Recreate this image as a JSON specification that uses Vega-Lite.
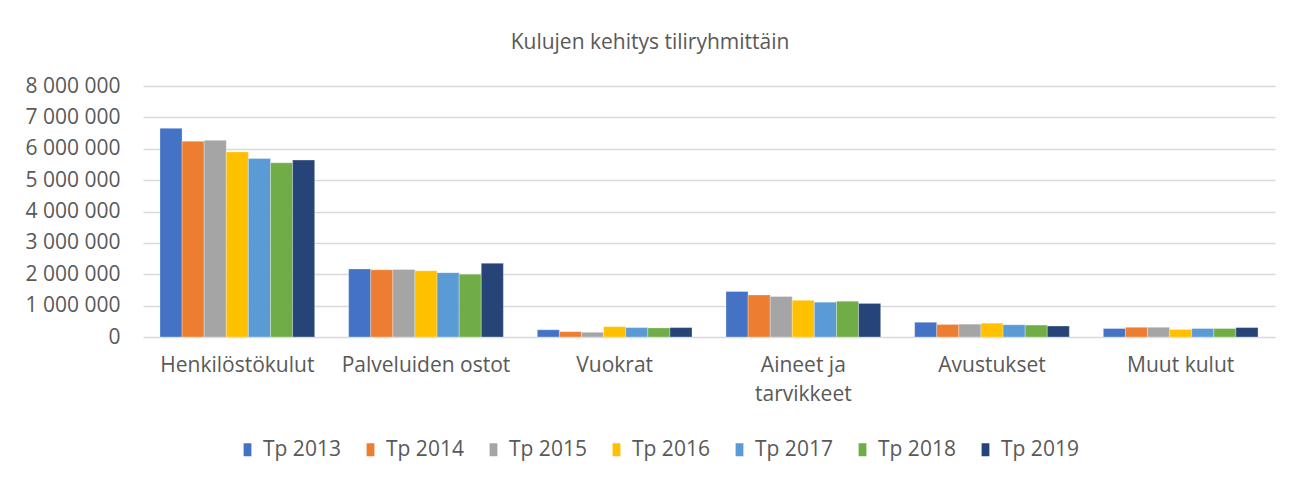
{
  "$schema": "https://vega.github.io/schema/vega-lite/v6.json",
  "width": 1132,
  "height": 251,
  "autosize": {"type": "none"},
  "padding": {"left": 143, "top": 86, "right": 29, "bottom": 149},
  "background": "white",
  "config": {
    "font": "Open Sans",
    "view": {"stroke": null},
    "locale": {"number": {"decimal": ",", "thousands": " ", "grouping": [3], "currency": ["", " €"]}}
  },
  "title": {
    "text": "Kulujen kehitys tiliryhmittäin",
    "fontSize": 21,
    "fontWeight": "normal",
    "color": "#595959",
    "font": "Open Sans",
    "anchor": "middle",
    "frame": "bounds",
    "offset": 22
  },
  "data": {
    "values": [
      {"tili": "Henkilöstökulut", "vuosi": "Tp 2013", "arvo": 6650000},
      {"tili": "Henkilöstökulut", "vuosi": "Tp 2014", "arvo": 6240000},
      {"tili": "Henkilöstökulut", "vuosi": "Tp 2015", "arvo": 6270000},
      {"tili": "Henkilöstökulut", "vuosi": "Tp 2016", "arvo": 5900000},
      {"tili": "Henkilöstökulut", "vuosi": "Tp 2017", "arvo": 5690000},
      {"tili": "Henkilöstökulut", "vuosi": "Tp 2018", "arvo": 5550000},
      {"tili": "Henkilöstökulut", "vuosi": "Tp 2019", "arvo": 5640000},
      {"tili": "Palveluiden ostot", "vuosi": "Tp 2013", "arvo": 2170000},
      {"tili": "Palveluiden ostot", "vuosi": "Tp 2014", "arvo": 2140000},
      {"tili": "Palveluiden ostot", "vuosi": "Tp 2015", "arvo": 2150000},
      {"tili": "Palveluiden ostot", "vuosi": "Tp 2016", "arvo": 2110000},
      {"tili": "Palveluiden ostot", "vuosi": "Tp 2017", "arvo": 2050000},
      {"tili": "Palveluiden ostot", "vuosi": "Tp 2018", "arvo": 2000000},
      {"tili": "Palveluiden ostot", "vuosi": "Tp 2019", "arvo": 2350000},
      {"tili": "Vuokrat", "vuosi": "Tp 2013", "arvo": 230000},
      {"tili": "Vuokrat", "vuosi": "Tp 2014", "arvo": 170000},
      {"tili": "Vuokrat", "vuosi": "Tp 2015", "arvo": 150000},
      {"tili": "Vuokrat", "vuosi": "Tp 2016", "arvo": 330000},
      {"tili": "Vuokrat", "vuosi": "Tp 2017", "arvo": 300000},
      {"tili": "Vuokrat", "vuosi": "Tp 2018", "arvo": 290000},
      {"tili": "Vuokrat", "vuosi": "Tp 2019", "arvo": 300000},
      {"tili": "Aineet ja tarvikkeet", "vuosi": "Tp 2013", "arvo": 1450000},
      {"tili": "Aineet ja tarvikkeet", "vuosi": "Tp 2014", "arvo": 1340000},
      {"tili": "Aineet ja tarvikkeet", "vuosi": "Tp 2015", "arvo": 1290000},
      {"tili": "Aineet ja tarvikkeet", "vuosi": "Tp 2016", "arvo": 1170000},
      {"tili": "Aineet ja tarvikkeet", "vuosi": "Tp 2017", "arvo": 1110000},
      {"tili": "Aineet ja tarvikkeet", "vuosi": "Tp 2018", "arvo": 1140000},
      {"tili": "Aineet ja tarvikkeet", "vuosi": "Tp 2019", "arvo": 1070000},
      {"tili": "Avustukset", "vuosi": "Tp 2013", "arvo": 470000},
      {"tili": "Avustukset", "vuosi": "Tp 2014", "arvo": 400000},
      {"tili": "Avustukset", "vuosi": "Tp 2015", "arvo": 410000},
      {"tili": "Avustukset", "vuosi": "Tp 2016", "arvo": 440000},
      {"tili": "Avustukset", "vuosi": "Tp 2017", "arvo": 390000},
      {"tili": "Avustukset", "vuosi": "Tp 2018", "arvo": 380000},
      {"tili": "Avustukset", "vuosi": "Tp 2019", "arvo": 350000},
      {"tili": "Muut kulut", "vuosi": "Tp 2013", "arvo": 270000},
      {"tili": "Muut kulut", "vuosi": "Tp 2014", "arvo": 310000},
      {"tili": "Muut kulut", "vuosi": "Tp 2015", "arvo": 310000},
      {"tili": "Muut kulut", "vuosi": "Tp 2016", "arvo": 240000},
      {"tili": "Muut kulut", "vuosi": "Tp 2017", "arvo": 270000},
      {"tili": "Muut kulut", "vuosi": "Tp 2018", "arvo": 270000},
      {"tili": "Muut kulut", "vuosi": "Tp 2019", "arvo": 300000}
    ]
  },
  "mark": {"type": "bar", "stroke": "white", "strokeWidth": 0.5, "strokeOpacity": 0.6},
  "encoding": {
    "x": {
      "field": "tili",
      "type": "nominal",
      "sort": null,
      "title": null,
      "scale": {"paddingInner": 0.18, "paddingOuter": 0.09},
      "axis": {
        "labelAngle": 0,
        "labelFontSize": 21,
        "labelColor": "#595959",
        "labelPadding": 17,
        "ticks": false,
        "domain": false,
        "labelLineHeight": 29,
        "labelExpr": "datum.label == 'Aineet ja tarvikkeet' ? ['Aineet ja', 'tarvikkeet'] : datum.label"
      }
    },
    "xOffset": {"field": "vuosi", "type": "nominal", "sort": null},
    "y": {
      "field": "arvo",
      "type": "quantitative",
      "title": null,
      "scale": {"domain": [0, 8000000]},
      "axis": {
        "values": [0, 1000000, 2000000, 3000000, 4000000, 5000000, 6000000, 7000000, 8000000],
        "format": ",d",
        "labelFontSize": 21,
        "labelColor": "#595959",
        "labelPadding": 23,
        "ticks": false,
        "domain": false,
        "gridColor": "#d9d9d9",
        "gridWidth": 1.3
      }
    },
    "color": {
      "field": "vuosi",
      "type": "nominal",
      "sort": null,
      "title": null,
      "scale": {
        "domain": ["Tp 2013", "Tp 2014", "Tp 2015", "Tp 2016", "Tp 2017", "Tp 2018", "Tp 2019"],
        "range": ["#4472C4", "#ED7D31", "#A5A5A5", "#FFC000", "#5B9BD5", "#70AD47", "#264478"]
      },
      "legend": {
        "orient": "none",
        "legendX": 94,
        "legendY": 353,
        "direction": "horizontal",
        "symbolType": "M-0.6,-1H0.6V1H-0.6Z",
        "symbolSize": 169,
        "symbolStrokeWidth": 0,
        "labelFontSize": 21,
        "labelColor": "#595959",
        "labelOffset": 5,
        "columnPadding": 19
      }
    }
  }
}
